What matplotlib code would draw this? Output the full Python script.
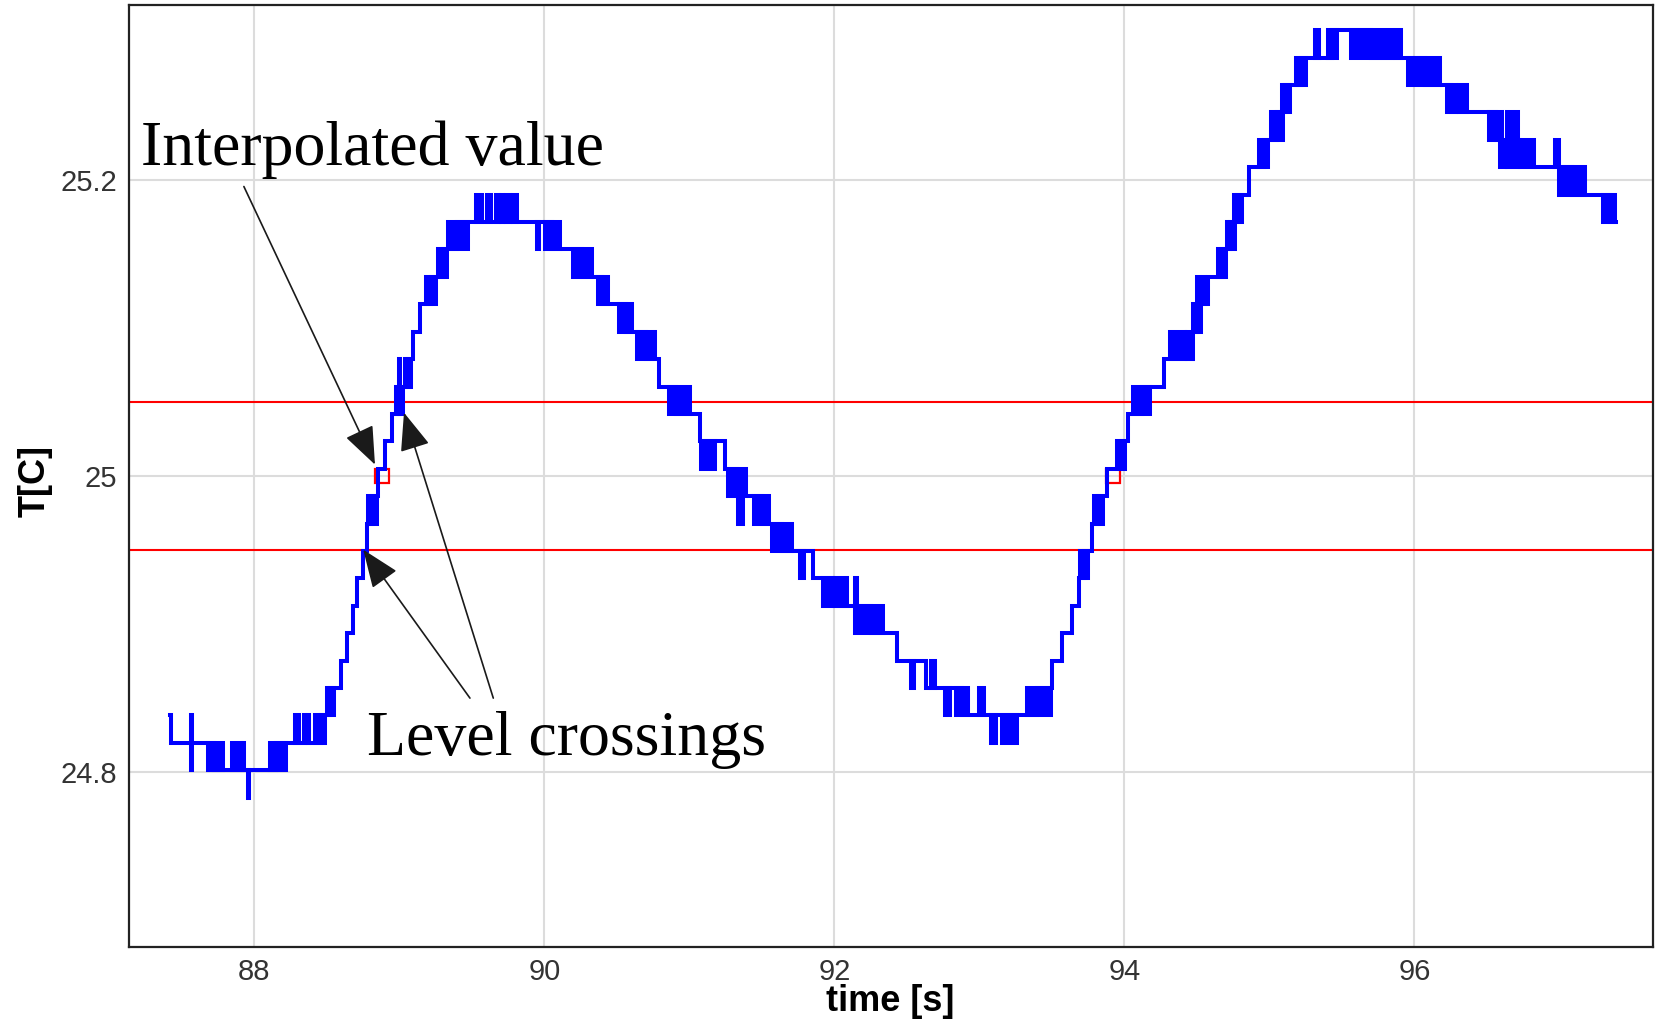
import numpy as np
import matplotlib
matplotlib.use("Agg")
import matplotlib.pyplot as plt

plt.rcParams['font.family'] = ['Liberation Sans', 'DejaVu Sans']

# quantised sensor levels (degC), indexed by k
levels = [24.783, 24.8015, 24.820, 24.8385, 24.857, 24.8755, 24.894, 24.9125,
          24.931, 24.9495, 24.968, 24.9865, 25.005, 25.0235, 25.042, 25.0605,
          25.079, 25.0975, 25.116, 25.1345, 25.153, 25.1715, 25.190, 25.2085,
          25.227, 25.2455, 25.264, 25.2825, 25.301]

# base staircase: time where a level starts, level index
step_t = [87.418, 87.425, 87.72, 88.15, 88.46, 88.52, 88.595, 88.640, 88.682, 88.706,
          88.747, 88.774, 88.81, 88.855, 88.901, 88.947, 89.00, 89.06, 89.096, 89.142,
          89.22, 89.30, 89.40, 90.05, 90.26, 90.40, 90.56, 90.70, 90.793, 90.91,
          91.075, 91.246, 91.33, 91.50, 91.64, 91.855, 92.0, 92.25, 92.43, 92.635,
          92.88, 93.40, 93.50, 93.573, 93.636, 93.689, 93.72, 93.779, 93.82, 93.882,
          93.98, 94.027, 94.12, 94.27, 94.47, 94.50, 94.578, 94.67, 94.73, 94.78,
          94.862, 94.96, 95.05, 95.11, 95.22, 95.435, 95.70, 96.07, 96.25, 96.56,
          96.73, 97.09, 97.35, 97.39]
step_k = [3, 2, 1, 2, 3, 4, 5, 6, 7, 8,
          9, 10, 11, 12, 13, 14, 15, 16, 17, 18,
          19, 20, 21, 20, 19, 18, 17, 16, 15, 14,
          13, 12, 11, 10, 9, 8, 7, 6, 5, 4,
          3, 4, 5, 6, 7, 8, 9, 10, 11, 12,
          13, 14, 15, 16, 17, 18, 19, 20, 21, 22,
          23, 24, 25, 26, 27, 28, 27, 26, 25, 24,
          23, 22, 21, 21]

# flicker between neighbouring levels (drawn as solid blocks)
blk_t0 = [87.562, 87.682, 87.843, 87.925, 87.955, 88.108, 88.280, 88.340, 88.372, 88.420,
          88.499, 88.786, 88.977, 88.995, 89.039, 89.183, 89.268, 89.337, 89.528, 89.606,
          89.664, 89.699, 89.735, 89.781, 89.951, 90.004, 90.195, 90.367, 90.514, 90.641,
          90.861, 90.990, 91.080, 91.268, 91.337, 91.446, 91.572, 91.763, 91.919, 92.142,
          92.142, 92.526, 92.665, 92.763, 92.839, 93.000, 93.078, 93.154, 93.330, 93.694,
          93.790, 93.951, 94.060, 94.314, 94.435, 94.475, 94.500, 94.544, 94.646, 94.705,
          94.753, 94.927, 95.008, 95.087, 95.183, 95.312, 95.406, 95.563, 95.873, 95.958,
          96.222, 96.307, 96.515, 96.590, 96.641, 96.641, 96.970, 96.999, 97.303]
blk_t1 = [87.572, 87.786, 87.912, 87.932, 87.962, 88.218, 88.305, 88.347, 88.380, 88.487,
          88.552, 88.843, 89.027, 89.005, 89.078, 89.252, 89.326, 89.475, 89.572, 89.630,
          89.687, 89.712, 89.763, 89.809, 89.966, 90.107, 90.330, 90.441, 90.602, 90.763,
          90.963, 91.005, 91.177, 91.388, 91.368, 91.549, 91.710, 91.791, 92.089, 92.158,
          92.337, 92.549, 92.695, 92.797, 92.923, 93.030, 93.112, 93.257, 93.495, 93.750,
          93.855, 94.004, 94.177, 94.418, 94.465, 94.526, 94.512, 94.558, 94.700, 94.764,
          94.813, 94.989, 95.097, 95.142, 95.250, 95.340, 95.464, 95.843, 95.907, 96.177,
          96.285, 96.360, 96.602, 96.625, 96.717, 96.827, 97.000, 97.177, 97.384]
blk_lo = [1, 1, 1, 1, 0, 1, 2, 2, 2, 2,
          3, 10, 14, 14, 15, 18, 19, 20, 21, 21,
          21, 21, 21, 21, 20, 20, 19, 18, 17, 16,
          14, 14, 12, 11, 10, 10, 9, 8, 7, 7,
          6, 4, 4, 3, 3, 3, 2, 2, 3, 8,
          10, 12, 14, 16, 16, 17, 18, 18, 19, 20,
          21, 23, 24, 25, 26, 27, 27, 27, 27, 26,
          25, 25, 24, 23, 23, 23, 23, 22, 21]
blk_hi = [3, 2, 2, 2, 1, 2, 3, 3, 3, 3,
          4, 11, 15, 16, 16, 19, 20, 21, 22, 22,
          22, 22, 22, 22, 21, 21, 20, 19, 18, 17,
          15, 15, 13, 12, 11, 11, 10, 9, 8, 8,
          7, 5, 5, 4, 4, 4, 3, 3, 4, 9,
          11, 13, 15, 17, 17, 18, 19, 19, 20, 21,
          22, 24, 25, 26, 27, 28, 28, 28, 28, 27,
          26, 26, 25, 24, 25, 24, 24, 23, 22]

thresholds = [24.95, 25.05]
cross_t = [88.883, 93.921]
cross_T = [25.0, 25.0]

x_ticks = [88, 90, 92, 94, 96]
y_ticks = [24.8, 25.0, 25.2]
y_ticklabels = ["24.8", "25", "25.2"]

lv = np.array(levels)
t0 = np.array(blk_t0)
t1 = np.array(blk_t1)
lo = lv[blk_lo]
hi = lv[blk_hi]

fig = plt.figure(figsize=(16.62, 10.27), dpi=100)
ax = fig.add_axes([0.0779, 0.0776, 0.9169, 0.9175])

for th in thresholds:
    ax.axhline(th, color="red", lw=1.5, zorder=2)

ax.plot(cross_t, cross_T, "s", ms=10.5, mfc="none", mec="red", mew=1.6, zorder=2.5)

ax.step(step_t, lv[step_k], where="post", color="blue", lw=2.9, zorder=3,
        solid_joinstyle="miter")
ax.bar(t0, hi - lo, width=t1 - t0, bottom=lo, align="edge", color="blue",
       edgecolor="blue", lw=2.9, zorder=3)

arrow = dict(arrowstyle="-|>,head_length=2.4,head_width=0.95", mutation_scale=10,
             color="#1a1a1a", lw=1.2, shrinkA=0, shrinkB=0)
ax.annotate("", xy=(88.832, 25.0078), xytext=(87.928, 25.1955), arrowprops=arrow, zorder=5)
ax.annotate("", xy=(88.751, 24.9504), xytext=(89.487, 24.8502), arrowprops=arrow, zorder=5)
ax.annotate("", xy=(89.032, 25.0429), xytext=(89.648, 24.8502), arrowprops=arrow, zorder=5)

serif = ["Liberation Serif", "DejaVu Serif"]
ax.text(87.216, 25.2098, "Interpolated value", family=serif, fontsize=46, va="baseline", zorder=6)
ax.text(88.775, 24.8119, "Level crossings", family=serif, fontsize=46, va="baseline", zorder=6)

ax.set_xlim(87.139, 97.648)
ax.set_ylim(24.682, 25.318)
ax.set_xticks(x_ticks)
ax.set_yticks(y_ticks, y_ticklabels)
ax.tick_params(length=0, labelsize=21, labelcolor="#333333")
ax.tick_params(axis="y", pad=9)
ax.tick_params(axis="x", pad=8)
ax.grid(True, color="#dcdcdc", lw=1.5)
ax.set_axisbelow(True)
for s in ax.spines.values():
    s.set_color("#222222")
    s.set_linewidth(1.6)

ax.set_xlabel("time [s]", fontsize=26, fontweight="bold")
ax.xaxis.set_label_coords(0.499, -0.0385)
ax.set_ylabel("T[C]", fontsize=26, fontweight="bold")
ax.yaxis.set_label_coords(-0.0502, 0.4949)

fig.savefig("out.png", dpi=100)
